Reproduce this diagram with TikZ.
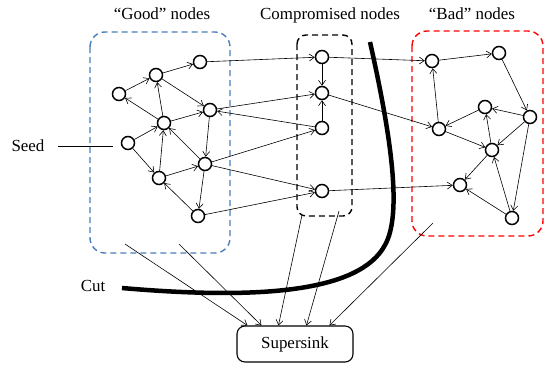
\documentclass[tikz,border=0pt]{standalone}
\usepackage{fontspec}
\setmainfont{Liberation Serif}
\usetikzlibrary{arrows.meta,calc}
\begin{document}
\begin{tikzpicture}[x=1bp,y=-1bp,
  vtx/.style={circle,draw,line width=1.5bp,minimum size=13bp,inner sep=0pt,fill=white},
  link/.style={line width=0.6bp,-{Straight Barb[length=5bp,width=7bp,line width=0.6bp]}},
  plain/.style={line width=0.6bp},
  grp/.style={rounded corners=15bp,dash pattern=on 6bp off 4bp,line width=1.4bp},
  lbl/.style={font=\fontsize{17}{20}\selectfont,inner sep=0pt,anchor=base}
]
\useasboundingbox (0,0) rectangle (550,364);

% group frames
\draw[grp,draw={rgb,255:red,74;green,126;blue,187}] (90,32) rectangle (230,253);
\draw[grp,rounded corners=9bp] (297,35) rectangle (352,216);
\draw[grp,draw=red] (412,31) rectangle (543,236);

% headings
\node[lbl] (hgood) at (162,19) {“Good” nodes};
\node[lbl] (hcomp) at (330,19) {Compromised nodes};
\node[lbl] (hbad)  at (472,19) {“Bad” nodes};

% good nodes
\node[vtx] (g1) at (200,62) {};
\node[vtx] (g2) at (156,75) {};
\node[vtx] (g3) at (119,94) {};
\node[vtx] (g4) at (210,110) {};
\node[vtx] (g5) at (164,123) {};
\node[vtx] (g6) at (128,143) {};
\node[vtx] (g7) at (205,164) {};
\node[vtx] (g8) at (159,178) {};
\node[vtx] (g9) at (198,216) {};

% compromised nodes
\node[vtx] (c1) at (322,57) {};
\node[vtx] (c2) at (322,93) {};
\node[vtx] (c3) at (322,128) {};
\node[vtx] (c4) at (322,191) {};

% bad nodes
\node[vtx] (b1) at (432,61) {};
\node[vtx] (b2) at (499,53) {};
\node[vtx] (b3) at (485,107) {};
\node[vtx] (b4) at (530,117) {};
\node[vtx] (b5) at (439,129) {};
\node[vtx] (b6) at (492,150) {};
\node[vtx] (b7) at (460,185) {};
\node[vtx] (b8) at (512,218) {};

% edges among good nodes
\draw[link] (g3) -- (g2);
\draw[link] (g2) -- (g1);
\draw[link] (g2) -- (g4);
\draw[link] (g5) -- (g2);
\draw[link] (g5) -- (g3);
\draw[link] (g5) -- (g4);
\draw[link] (g6) -- (g5);
\draw[link] (g6) -- (g8);
\draw[link] (g8) -- (g5);
\draw[link] (g7) -- (g5);
\draw[link] (g4) -- (g7);
\draw[link] (g8) -- (g7);
\draw[link] (g7) -- (g9);
\draw[link] (g9) -- (g8);

% good -> compromised
\draw[link] (g1) -- (c1);
\draw[link] (g4) -- (c2);
\draw[link] (c3) -- (g4);
\draw[link] (g7) -- (c3);
\draw[link] (g7) -- (c4);
\draw[link] (g9) -- (c4);

% among compromised
\draw[link] (c1) -- (c2);
\draw[link] (c3) -- (c2);

% compromised -> bad
\draw[link] (c1) -- (b1);
\draw[link] (c2) -- (b5);
\draw[link] (c4) -- (b7);

% among bad nodes
\draw[link] (b1) -- (b2);
\draw[link] (b2) -- (b4);
\draw[link] (b5) -- (b1);
\draw[link] (b3) -- (b5);
\draw[link] (b4) -- (b3);
\draw[link] (b4) -- (b6);
\draw[link] (b6) -- (b3);
\draw[link] (b5) -- (b6);
\draw[link] (b6) -- (b7);
\draw[link] (b4) -- (b8);
\draw[link] (b8) -- (b6);
\draw[link] (b8) -- (b7);

% seed
\node[lbl] (seed) at (28,151) {Seed};
\coordinate (seedend) at (113,146);
\draw[plain] (58,146) -- (seedend);

% supersink
\node[draw,line width=1.1bp,rounded corners=8bp,minimum width=116bp,minimum height=36bp,
      font=\fontsize{17}{20}\selectfont] (ss) at (295,344) {Supersink};
\coordinate (s1) at (125,244);
\coordinate (s2) at (179,244);
\coordinate (s3) at (302,215);
\coordinate (s4) at (339,211);
\coordinate (s5) at (433,223);
\draw[link] (s1) -- ($(ss.north west)+(11,0)$);
\draw[link] (s2) -- ($(ss.north west)+(25,0)$);
\draw[link] (s3) -- ($(ss.north west)+(42,0)$);
\draw[link] (s4) -- ($(ss.north west)+(70,0)$);
\draw[link] (s5) -- ($(ss.north west)+(93,0)$);

% the cut
\node[lbl] (cut) at (93,291) {Cut};
\draw[line width=4.5bp] (370,42) .. controls (392,140) and (402,215) .. (385,245)
  .. controls (360,292) and (260,300) .. (122,288);
\end{tikzpicture}
\end{document}
